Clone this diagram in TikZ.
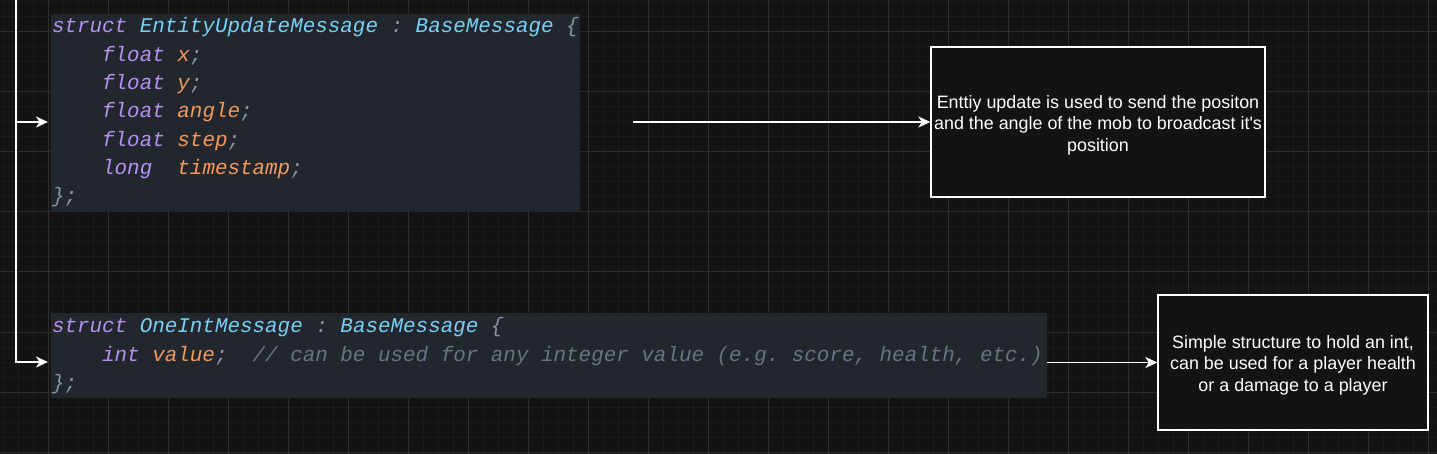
\documentclass[tikz,border=0pt]{standalone}
\usepackage{fontspec}
\setmainfont{Liberation Sans}
\newfontfamily\codefont{Liberation Mono}
\usetikzlibrary{arrows.meta}
\definecolor{bgc}{HTML}{131313}
\definecolor{gridminor}{HTML}{1B1B1B}
\definecolor{gridmajor}{HTML}{2E2E2E}
\definecolor{codebg}{HTML}{22272E}
\definecolor{kw}{HTML}{B392F0}
\definecolor{ty}{HTML}{79D0F5}
\definecolor{vr}{HTML}{F2995E}
\definecolor{pn}{HTML}{8892A0}
\definecolor{cm}{HTML}{6A7383}
\begin{document}
\begin{tikzpicture}[x=1bp,y=-1bp,
  minorline/.style={draw=gridminor,line width=1bp},
  majorline/.style={draw=gridmajor,line width=1bp},
  codebox/.style={fill=codebg,draw=none,inner sep=0,outer sep=0},
  codeline/.style={anchor=base west,inner sep=0,outer sep=0,text=pn,
    font=\codefont\itshape\fontsize{20.9bp}{28.3bp}\selectfont\frenchspacing},
  note/.style={draw=white,line width=1.3bp,fill=bgc,text=white,align=center,inner sep=0,
    font=\fontsize{17.9bp}{21.5bp}\selectfont},
  link/.style={draw=white,line width=1.6bp,-{Stealth[length=12bp,width=11bp,inset=3.5bp]}}]
\fill[bgc] (0,0) rectangle (1437,454);
\useasboundingbox (0,0) rectangle (1437,454);
\foreach \x in {3,18,...,1437} \draw[minorline] (\x,0) -- (\x,454);
\foreach \y in {2,17,...,454} \draw[minorline] (0,\y) -- (1437,\y);
\foreach \x in {48,108,...,1437} \draw[majorline] (\x,0) -- (\x,454);
\foreach \y in {32,92,...,454} \draw[majorline] (0,\y) -- (1437,\y);

% code boxes
\node[codebox,minimum width=529bp,minimum height=198bp] (code1) at (315.5,113) {};
\node[codebox,minimum width=996bp,minimum height=85bp] (code2) at (549,355.5) {};

\node[codeline] (c1l1) at (52,33) {\textcolor{kw}{struct} \textcolor{ty}{EntityUpdateMessage} : \textcolor{ty}{BaseMessage} \{};
\node[codeline] (c1l2) at (52,61.3) {\phantom{xxxx}\textcolor{kw}{float} \textcolor{vr}{x};};
\node[codeline] (c1l3) at (52,89.6) {\phantom{xxxx}\textcolor{kw}{float} \textcolor{vr}{y};};
\node[codeline] (c1l4) at (52,117.9) {\phantom{xxxx}\textcolor{kw}{float} \textcolor{vr}{angle};};
\node[codeline] (c1l5) at (52,146.2) {\phantom{xxxx}\textcolor{kw}{float} \textcolor{vr}{step};};
\node[codeline] (c1l6) at (52,174.5) {\phantom{xxxx}\textcolor{kw}{long}\phantom{xx}\textcolor{vr}{timestamp};};
\node[codeline] (c1l7) at (52,202.8) {\};};

\node[codeline] (c2l1) at (52,333) {\textcolor{kw}{struct} \textcolor{ty}{OneIntMessage} : \textcolor{ty}{BaseMessage} \{};
\node[codeline] (c2l2) at (52,361.3) {\phantom{xxxx}\textcolor{kw}{int} \textcolor{vr}{value};\phantom{xx}\textcolor{cm}{// can be used for any integer value (e.g. score, health, etc.)}};
\node[codeline] (c2l3) at (52,389.6) {\};};

% notes
\node[note,minimum width=334bp,minimum height=150bp] (box1) at (1098,122)
  {\rule{0pt}{18.8bp}Enttiy update is used to send the positon\\and the angle of the mob to broadcast it\textquotesingle s\\position};
\node[note,minimum width=270bp,minimum height=135bp] (box2) at (1293,362.5)
  {\rule{0pt}{17.8bp}Simple structure to hold an int,\\can be used for a player health\\or a damage to a player};

% connectors
\coordinate (top) at (16,-2);
\coordinate (j1) at (16,122);
\coordinate (j2) at (16,362);
\coordinate (a1) at (633,122);
\draw[link,shorten >=3bp] (top) |- (code2.west |- j2);
\draw[link,shorten >=3bp] (j1) -- (code1.west |- j1);
\draw[link] (a1) -- (box1.west);
\draw[link] (code2.east |- box2.west) -- (box2.west);
\end{tikzpicture}
\end{document}
